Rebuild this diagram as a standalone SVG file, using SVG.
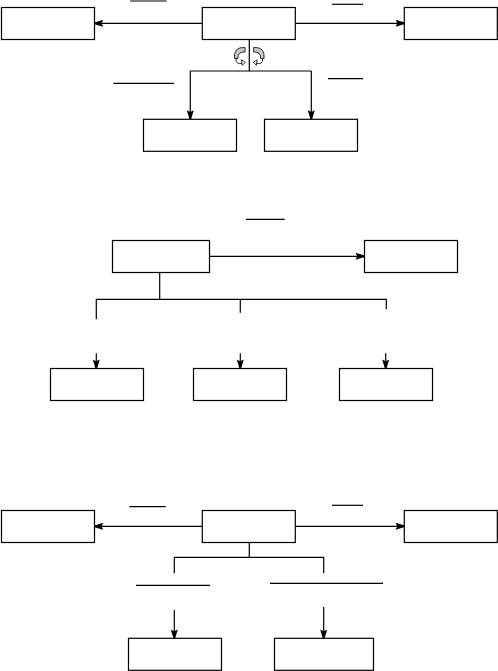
<svg xmlns="http://www.w3.org/2000/svg" width="498" height="671" viewBox="0 0 498 671">
<style>
.box{fill:#fff;stroke:#000;stroke-width:1.2}
.ln{fill:none;stroke:#000;stroke-width:1.2}
.arr{fill:none;stroke:#000;stroke-width:1.2;marker-end:url(#ah)}
.lbl{stroke:#000;stroke-width:1.2}
.rot{fill:#c8c8c8;stroke:#000;stroke-width:0.8}
.rotl{fill:none;stroke:#000;stroke-width:0.8}
</style>
<defs>
<marker id="ah" viewBox="0 0 10 8" refX="10" refY="4" markerWidth="9" markerHeight="7" markerUnits="userSpaceOnUse" orient="auto">
<path d="M0,0 L10,3 L10,5 L0,8 L2,4 Z" fill="#000"/>
</marker>
</defs>
<rect width="498" height="671" fill="#fff"/>
<g id="connectors">
<!-- section 1 -->
<line class="arr" x1="202" y1="23.3" x2="94.5" y2="23.3"/>
<line class="arr" x1="295.3" y1="23.3" x2="404.3" y2="23.3"/>
<polyline class="ln" points="249.3,39.5 249.3,71 190.3,71"/>
<line class="ln" x1="249.3" y1="71" x2="311.3" y2="71"/>
<line class="arr" x1="190.3" y1="71" x2="190.3" y2="119"/>
<line class="arr" x1="311.3" y1="71" x2="311.3" y2="119"/>
<line class="lbl" x1="130" y1="1" x2="166.7" y2="1"/>
<line class="lbl" x1="332" y1="4.3" x2="363" y2="4.3"/>
<line class="lbl" x1="113.3" y1="83.3" x2="174" y2="83.3"/>
<line class="lbl" x1="328" y1="78.7" x2="363" y2="78.7"/>
<!-- section 2 -->
<line class="arr" x1="209.3" y1="256.3" x2="364.3" y2="256.3"/>
<line class="lbl" x1="246" y1="219.3" x2="284.7" y2="219.3"/>
<line class="ln" x1="159.7" y1="272.3" x2="159.7" y2="299.3"/>
<polyline class="ln" points="96.3,319.3 96.3,299.3 386.3,299.3 386.3,309.3"/>
<line class="ln" x1="240.3" y1="299.3" x2="240.3" y2="312.7"/>
<line class="arr" x1="96.3" y1="353.3" x2="96.3" y2="368.3"/>
<line class="arr" x1="240.3" y1="353.3" x2="240.3" y2="368.3"/>
<line class="arr" x1="385.7" y1="353.3" x2="385.7" y2="368.3"/>
<!-- section 3 -->
<line class="arr" x1="202" y1="526.3" x2="94.5" y2="526.3"/>
<line class="arr" x1="295.3" y1="526.3" x2="404.3" y2="526.3"/>
<line class="lbl" x1="129.3" y1="506.7" x2="165.7" y2="506.7"/>
<line class="lbl" x1="332" y1="505.3" x2="363" y2="505.3"/>
<line class="ln" x1="249.3" y1="542.3" x2="249.3" y2="557.3"/>
<polyline class="ln" points="174.3,573.3 174.3,557.3 323.7,557.3 323.7,573.3"/>
<line class="lbl" x1="136" y1="585.3" x2="210" y2="585.3"/>
<line class="lbl" x1="270" y1="583.3" x2="383" y2="583.3"/>
<line class="arr" x1="174.3" y1="610" x2="174.3" y2="638.3"/>
<line class="arr" x1="323.7" y1="607" x2="323.7" y2="638.3"/>
</g>
<g id="rotation-icons">
<g id="rot-left">
<path class="rot" d="M245,47.5 Q233.5,46.5 234.5,58.5 L238,58.5 Q237.5,51.5 245,52 Z"/>
<path class="rotl" d="M236,58.5 Q235.5,65.5 243,63"/>
<path d="M245.3,62.3 L241.5,59.8 L242.2,65.3 Z" fill="#fff" stroke="#000" stroke-width="0.8"/>
</g>
<g id="rot-right">
<path class="rot" d="M253.6,47.5 Q265.1,46.5 264.1,58.5 L260.6,58.5 Q261.1,51.5 253.6,52 Z"/>
<path class="rotl" d="M262.6,58.5 Q263.1,65.5 255.6,63"/>
<path d="M253.3,62.3 L257.1,59.8 L256.4,65.3 Z" fill="#fff" stroke="#000" stroke-width="0.8"/>
</g>
</g>
<g id="n1-left"><rect class="box" x="1.5" y="7.5" width="93" height="32"/></g>
<g id="n1-center"><rect class="box" x="202.3" y="7.5" width="93" height="32"/></g>
<g id="n1-right"><rect class="box" x="404.3" y="7.5" width="93" height="32"/></g>
<g id="n1-bottom-left"><rect class="box" x="143.5" y="119.3" width="93" height="32"/></g>
<g id="n1-bottom-right"><rect class="box" x="264.5" y="119.3" width="93" height="32"/></g>
<g id="n2-top-left"><rect class="box" x="112.5" y="240.5" width="97" height="32"/></g>
<g id="n2-top-right"><rect class="box" x="364.5" y="240.5" width="93" height="32"/></g>
<g id="n2-bottom-left"><rect class="box" x="50.5" y="368.5" width="93" height="32"/></g>
<g id="n2-bottom-middle"><rect class="box" x="193.5" y="368.5" width="93" height="32"/></g>
<g id="n2-bottom-right"><rect class="box" x="339.5" y="368.5" width="93" height="32"/></g>
<g id="n3-left"><rect class="box" x="1.5" y="510.5" width="93" height="32"/></g>
<g id="n3-center"><rect class="box" x="202.3" y="510.5" width="93" height="32"/></g>
<g id="n3-right"><rect class="box" x="404.3" y="510.5" width="93" height="32"/></g>
<g id="n3-bottom-left"><rect class="box" x="128.5" y="638.3" width="93" height="32"/></g>
<g id="n3-bottom-right"><rect class="box" x="274.5" y="638.3" width="99" height="32"/></g>
</svg>
